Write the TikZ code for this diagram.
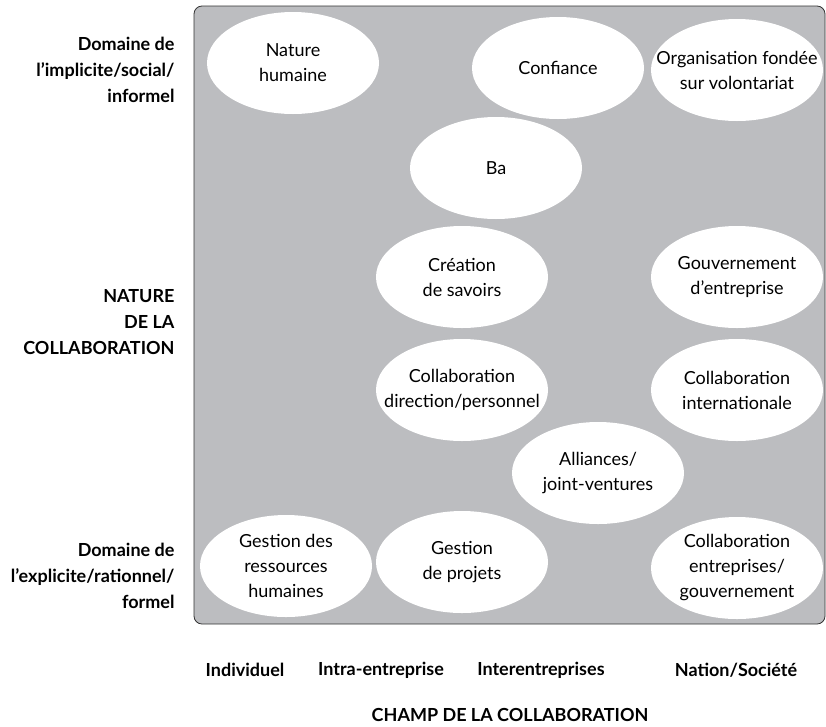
\documentclass[tikz,border=0pt]{standalone}
\usepackage{fontspec}
\setmainfont{Lato}
\usetikzlibrary{shapes.geometric}
\definecolor{fond}{HTML}{BCBDC0}

\begin{document}
\begin{tikzpicture}[x=1pt, y=-1pt,
		bulle/.style={ellipse, fill=white, minimum width=172pt, minimum height=102pt, inner xsep=-25pt, inner ysep=0pt, align=center, font=\fontsize{18}{25}\selectfont},
		axe/.style={align=right, anchor=east, font=\bfseries\fontsize{18}{26}\selectfont},
		champ/.style={font=\bfseries\fontsize{18}{22}\selectfont}]
		\useasboundingbox (0, 0) rectangle (826, 726);
		% cadre gris
		\draw[fill=fond, draw=black!80, line width=0.8pt, rounded corners=8pt] (194, 6) rectangle (825, 624);

		% bulles
		\node[bulle] (A) at (293, 63) {Nature\\humaine};
		\node[bulle] (B) at (558, 68) {Confiance};
		\node[bulle] (C) at (737, 70) {Organisation fondée\\sur volontariat};
		\node[bulle] (D) at (496, 168) {Ba};
		\node[bulle] (E) at (462, 277) {Création\\de savoirs};
		\node[bulle] (F) at (737, 277) {Gouvernement\\d’entreprise};
		\node[bulle] (G) at (462, 390) {Collaboration\\direction/personnel};
		\node[bulle] (H) at (737, 390) {Collaboration\\internationale};
		\node[bulle] (I) at (598, 473) {Alliances/\\joint-ventures};
		\node[bulle] (J) at (286, 566) {Gestion des\\ressources\\humaines};
		\node[bulle] (K) at (462, 562) {Gestion\\de projets};
		\node[bulle] (L) at (737, 568) {Collaboration\\entreprises/\\gouvernement};

		% axe vertical
		\node[axe] (M) at (178, 70) {Domaine de\\l’implicite/social/\\informel};
		\node[axe] (N) at (178, 322) {NATURE\\DE LA\\COLLABORATION};
		\node[axe] (O) at (178, 576) {Domaine de\\l’explicite/rationnel/\\formel};

		% axe horizontal
		\node[champ] (P) at (245, 670) {Individuel};
		\node[champ] (Q) at (381, 670) {Intra-entreprise};
		\node[champ] (R) at (541, 670) {Interentreprises};
		\node[champ] (S) at (736, 670) {Nation/Société};
		\node[champ] (T) at (510, 715) {CHAMP DE LA COLLABORATION};
	\end{tikzpicture}
\end{document}
